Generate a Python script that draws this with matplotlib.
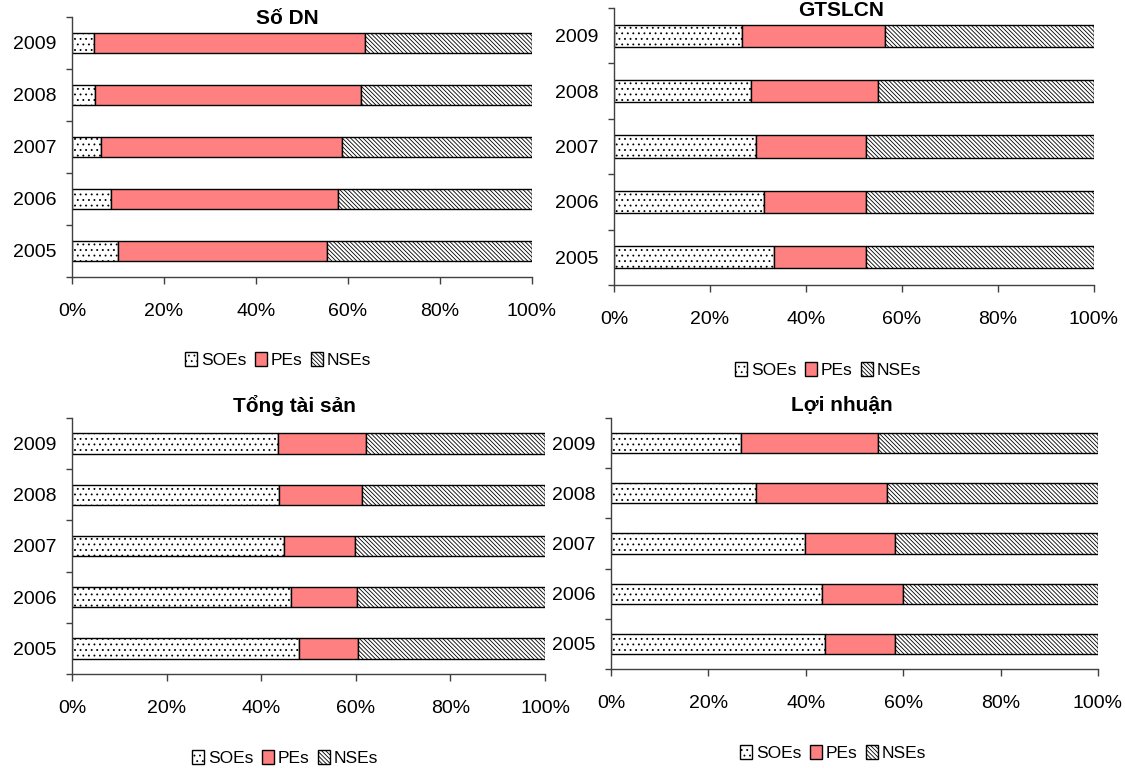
import matplotlib
matplotlib.use("Agg")
import matplotlib.pyplot as plt
import numpy as np
from matplotlib.patches import Patch

plt.rcParams['font.family'] = ['Liberation Sans Narrow', 'Liberation Sans', 'DejaVu Sans']
plt.rcParams['hatch.linewidth'] = 0.6

years = ["2005", "2006", "2007", "2008", "2009"]
series = ["SOEs", "PEs", "NSEs"]

# shares in %, order 2005..2009
so_dn_soe = [10.1, 8.4, 6.4, 5.0, 4.8]
so_dn_pe = [45.4, 49.4, 52.4, 57.9, 58.8]
gtslcn_soe = [33.3, 31.3, 29.5, 28.5, 26.7]
gtslcn_pe = [19.1, 21.1, 23.1, 26.6, 29.8]
tts_soe = [48.0, 46.3, 44.8, 43.8, 43.6]
tts_pe = [12.4, 13.9, 15.1, 17.6, 18.6]
ln_soe = [44.0, 43.4, 39.8, 29.7, 26.7]
ln_pe = [14.4, 16.5, 18.6, 26.9, 28.1]

titles = ["Số DN", "GTSLCN", "Tổng tài sản", "Lợi nhuận"]
soe_all = [so_dn_soe, gtslcn_soe, tts_soe, ln_soe]
pe_all = [so_dn_pe, gtslcn_pe, tts_pe, ln_pe]

W, H = 1125, 768
# left, right, top, bottom in pixels
boxes = [(72, 532, 17, 277), (614, 1094, 8, 285), (72, 545, 418, 674), (611, 1098, 418, 669)]
title_pos = [(287, 18), (841, 10), (294, 405), (842, 405)]
legend_pos = [(278, 360), (828, 370), (285, 758), (833, 753)]

pe_color = "#FF8080"
edge = "#000000"
dots = "..."
diag = "\\" * 8

fig = plt.figure(figsize=(W / 100, H / 100), dpi=100)

for i in range(4):
    l, r, t, b = boxes[i]
    ax = fig.add_axes([l / W, 1 - b / H, (r - l) / W, (b - t) / H])
    soe = np.array(soe_all[i])
    pe = np.array(pe_all[i])
    nse = 100 - soe - pe
    y = np.arange(len(years))
    h = 0.4
    ax.barh(y, soe, height=h, color="white", edgecolor=edge, hatch=dots, linewidth=1)
    ax.barh(y, pe, left=soe, height=h, color=pe_color, edgecolor=edge, linewidth=1)
    ax.barh(y, nse, left=soe + pe, height=h, color="white", edgecolor=edge, hatch=diag, linewidth=1)
    ax.set_xlim(0, 100)
    ax.set_ylim(-0.5, len(years) - 0.5)
    ax.set_xticks([0, 20, 40, 60, 80, 100])
    ax.set_xticklabels([f"{v}%" for v in [0, 20, 40, 60, 80, 100]])
    ax.set_yticks(y)
    ax.set_yticklabels(years)
    ax.set_yticks(np.arange(-0.5, len(years)), minor=True)
    for s in ["top", "right"]:
        ax.spines[s].set_visible(False)
    for s in ["left", "bottom"]:
        ax.spines[s].set_color("#404040")
        ax.spines[s].set_linewidth(1)
    ax.tick_params(axis="x", direction="out", length=5, width=1, color="#404040", labelsize=14, pad=14)
    ax.tick_params(axis="y", which="major", length=0, labelsize=14, pad=11)
    ax.tick_params(axis="y", which="minor", direction="out", length=4, width=1, color="#404040")
    tx, ty = title_pos[i]
    fig.text(tx / W, 1 - ty / H, titles[i], ha="center", va="center",
             fontsize=15, fontweight="bold")
    handles = [Patch(facecolor="white", edgecolor=edge, hatch=dots),
               Patch(facecolor=pe_color, edgecolor=edge),
               Patch(facecolor="white", edgecolor=edge, hatch=diag)]
    lx, ly = legend_pos[i]
    fig.legend(handles, series, loc="center", bbox_to_anchor=(lx / W, 1 - ly / H),
               ncol=3, frameon=False, fontsize=12.5, handlelength=0.7, handleheight=0.9,
               handletextpad=0.2, columnspacing=0.5)

fig.savefig("out.png", dpi=100)
